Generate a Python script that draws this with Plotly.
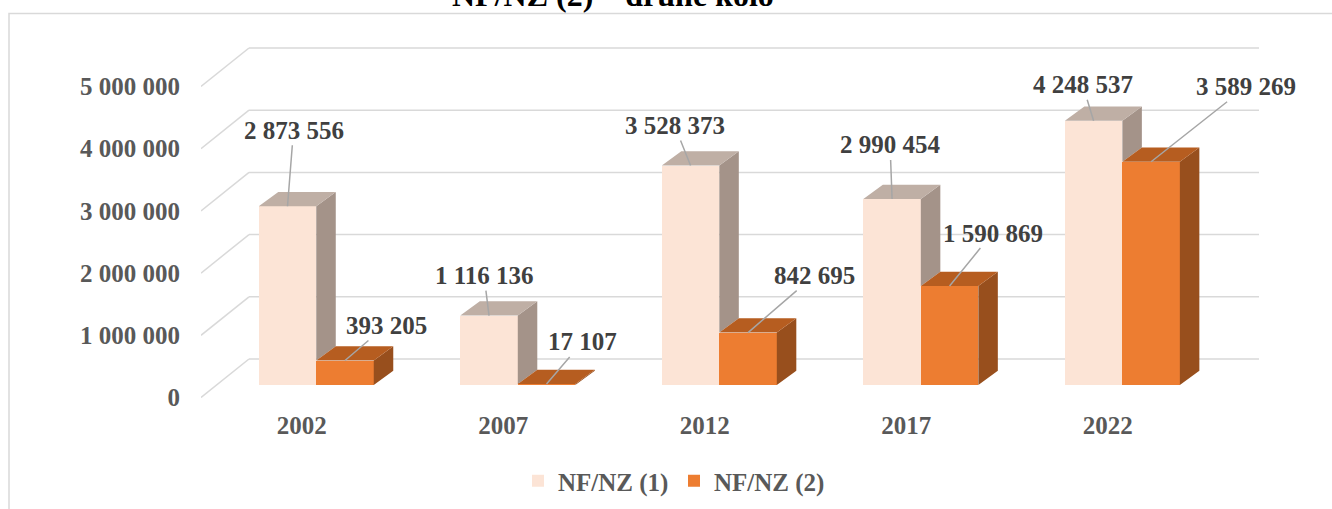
import plotly.graph_objects as go

# ---------------- data ----------------
years = ["2002", "2007", "2012", "2017", "2022"]
nf1 = [2873556, 1116136, 3528373, 2990454, 4248537]
nf2 = [393205, 17107, 842695, 1590869, 3589269]
series_names = ["NF/NZ (1)", "NF/NZ (2)"]
y_tick_values = [0, 1000000, 2000000, 3000000, 4000000, 5000000]
y_tick_text = ["0", "1 000 000", "2 000 000", "3 000 000", "4 000 000", "5 000 000"]
title_text = "NF/NZ (2) – druhé kolo"

# ---------------- geometry / style ----------------
W, H = 1332, 509
ML, MR, MT, MB = 201, 73, 47, 111
PW, PH = W - ML - MR, H - MT - MB
X_RANGE = [-0.5, 4.75]
PX_PER_X = PW / (X_RANGE[1] - X_RANGE[0])
PX_PER_M = 62.2
Y0 = -(PH + MT - 385) / PX_PER_M * 1e6
Y_RANGE = [Y0, Y0 + PH / PX_PER_M * 1e6]


def dx(p):
    return p / PX_PER_X


def dy(p):
    return p / PX_PER_M * 1e6


BAR_W = dx(57.5)
SHIFT = dx(14.5)
DEPTH_X, DEPTH_Y = dx(19.5), dy(14.3)
WALL_X, WALL_Y = dx(48), dy(26)
LABEL_Y = dy(-12.5)

FONT = "Liberation Serif"
FS = 25
AXIS_COL = "#595959"
LABEL_COL = "#404040"
GRID_COL = "#D9D9D9"
C1 = dict(front="#FCE4D6", top="#BFAFA5", side="#A49389")
C2 = dict(front="#ED7D31", top="#B65D20", side="#984F1D")

idx = list(range(len(years)))
x1 = [i + SHIFT - BAR_W / 2 for i in idx]
x2 = [i + SHIFT + BAR_W / 2 for i in idx]

fig = go.Figure()

# front faces (real bars)
fig.add_trace(go.Bar(x=x1, y=nf1, width=BAR_W, name=series_names[0],
                     marker=dict(color=C1["front"], line=dict(width=0)), hoverinfo="skip"))
fig.add_trace(go.Bar(x=x2, y=nf2, width=BAR_W, name=series_names[1],
                     marker=dict(color=C2["front"], line=dict(width=0)), hoverinfo="skip"))


def poly_trace(polys, color):
    xs, ys = [], []
    for p in polys:
        for (a, b) in p:
            xs.append(a)
            ys.append(b)
        xs.append(p[0][0])
        ys.append(p[0][1])
        xs.append(None)
        ys.append(None)
    return go.Scatter(x=xs, y=ys, mode="lines", fill="toself", fillcolor=color,
                      line=dict(width=0, color=color), showlegend=False, hoverinfo="skip")


top1, side1, top2, side2 = [], [], [], []
for i in idx:
    l1, r1 = x1[i] - BAR_W / 2, x1[i] + BAR_W / 2
    l2, r2 = x2[i] - BAR_W / 2, x2[i] + BAR_W / 2
    v1, v2 = nf1[i], nf2[i]
    top1.append([(l1, v1), (l1 + DEPTH_X, v1 + DEPTH_Y), (r1 + DEPTH_X, v1 + DEPTH_Y), (r1, v1)])
    low = min(v1, v2)
    side1.append([(r1, low), (r1 + DEPTH_X, low + DEPTH_Y), (r1 + DEPTH_X, v1 + DEPTH_Y), (r1, v1)])
    top2.append([(l2, v2), (l2 + DEPTH_X, v2 + DEPTH_Y), (r2 + DEPTH_X, v2 + DEPTH_Y), (r2, v2)])
    side2.append([(r2, 0), (r2 + DEPTH_X, DEPTH_Y), (r2 + DEPTH_X, v2 + DEPTH_Y), (r2, v2)])

fig.add_trace(poly_trace(side1, C1["side"]))
fig.add_trace(poly_trace(top1, C1["top"]))
fig.add_trace(poly_trace(side2, C2["side"]))
fig.add_trace(poly_trace(top2, C2["top"]))

# back-wall gridlines with oblique perspective
shapes = []
for v in y_tick_values:
    shapes.append(dict(type="line", xref="x", yref="y", x0=X_RANGE[0], y0=v + LABEL_Y,
                       x1=X_RANGE[0] + WALL_X, y1=v + WALL_Y,
                       line=dict(color=GRID_COL, width=1.5), layer="below"))
    shapes.append(dict(type="line", xref="x", yref="y", x0=X_RANGE[0] + WALL_X, y0=v + WALL_Y,
                       x1=X_RANGE[1], y1=v + WALL_Y,
                       line=dict(color=GRID_COL, width=1.5), layer="below"))

# chart-area frame (partly outside the visible page)
px_l, px_t = 9, 13.5
shapes.append(dict(type="rect", xref="paper", yref="paper",
                   x0=(px_l - ML) / PW, x1=(W + 20 - ML) / PW,
                   y0=-(H + 20 - MT - PH) / PH, y1=(MT + PH - px_t) / PH,
                   line=dict(color=GRID_COL, width=1.5), fillcolor="rgba(0,0,0,0)", layer="below"))

# data labels with leader lines (text offsets in px)
label_offsets_1 = [(6, -76), (-5, -40), (-16, -40), (-2, -54), (-11, -36)]
label_offsets_2 = [(41, -35), (36, -42), (66, -57), (43, -53), (95, -75)]


def fmt(v):
    return f"{v:,}".replace(",", " ")


annotations = []
for i in idx:
    for xs, vals, offs in ((x1, nf1, label_offsets_1), (x2, nf2, label_offsets_2)):
        annotations.append(dict(x=xs[i], y=vals[i], xref="x", yref="y", text="<b>" + fmt(vals[i]) + "</b>",
                                showarrow=True, arrowhead=0, arrowwidth=1.5, arrowcolor="#A6A6A6",
                                ax=offs[i][0], ay=offs[i][1], standoff=0,
                                font=dict(family=FONT, size=FS, color=LABEL_COL)))

# title (cut off at top edge as in the source)
annotations.append(dict(text="<b>" + title_text + "</b>", xref="paper", yref="paper",
                        x=(613 - ML) / PW, y=(MT + PH - 15) / PH, xanchor="center", yanchor="bottom",
                        showarrow=False, font=dict(family=FONT, size=32, color="#000000")))

fig.update_layout(
    width=W, height=H,
    margin=dict(l=ML, r=MR, t=MT, b=MB, pad=0, autoexpand=False),
    paper_bgcolor="white", plot_bgcolor="white",
    barmode="overlay", bargap=0,
    font=dict(family=FONT, size=FS, color=AXIS_COL),
    shapes=shapes, annotations=annotations,
    showlegend=True,
    legend=dict(orientation="h", x=(518 - ML) / PW, xanchor="left",
                y=-(481 - MT - PH) / PH, yanchor="middle",
                font=dict(family=FONT, size=FS, color=AXIS_COL, weight="bold"),
                itemwidth=30, entrywidth=111, traceorder="normal"),
    xaxis=dict(range=X_RANGE, tickvals=idx, ticktext=years, showgrid=False, zeroline=False,
               showline=False, ticks="", ticklabelstandoff=10, automargin=False,
               tickfont=dict(family=FONT, size=FS, color=AXIS_COL, weight="bold"), fixedrange=True),
    yaxis=dict(range=Y_RANGE, tickvals=[v + LABEL_Y for v in y_tick_values], ticktext=y_tick_text,
               showgrid=False, zeroline=False, showline=False, ticks="", ticklabelstandoff=20,
               automargin=False,
               tickfont=dict(family=FONT, size=FS, color=AXIS_COL, weight="bold"), fixedrange=True),
)

fig.write_html("out.html", config={"displayModeBar": False},
               post_script="document.body.style.margin='0px';document.body.style.overflow='hidden';")
